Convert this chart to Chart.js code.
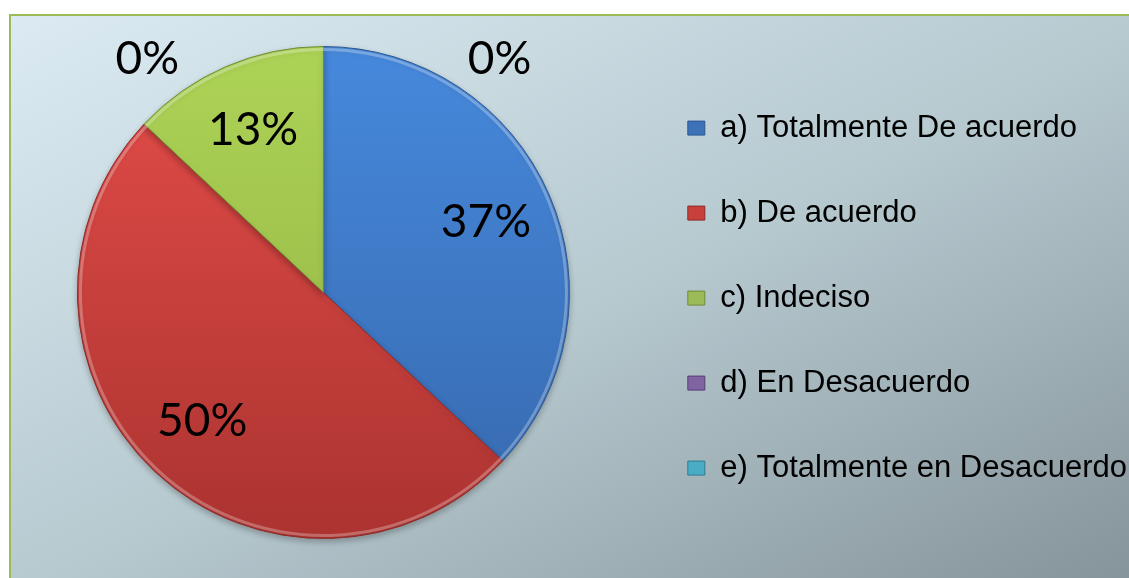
<!DOCTYPE html>
<html>
<head>
<meta charset="utf-8">
<script src="https://cdn.jsdelivr.net/npm/chart.js@4"></script>
<style>
  html, body { margin: 0; padding: 0; background: #fff; overflow: hidden; }
  #frame {
    position: absolute; left: 9px; top: 14px;
    width: 1130px; height: 564px;
    border: 2px solid #9bbb59;
    background: linear-gradient(to bottom right, #dcebf3 0%, #b6c9cf 52%, #85939a 100%);
  }
  #myChartPie { display: block; }
</style>
</head>
<body>
<div id="frame"><canvas id="myChartPie" width="1130" height="564"></canvas></div>
<script>
// data
var categories = ['a) Totalmente De acuerdo', 'b) De acuerdo', 'c) Indeciso', 'd) En Desacuerdo', 'e) Totalmente en Desacuerdo'];
var percentages = [37, 50, 13, 0, 0];

var topColors = ['#4689dc', '#e44d49', '#add356', '#8a6cb0', '#53b8d3'];
var bottomColors = ['#3768ad', '#ab3330', '#90b042', '#6a4f8c', '#3a92aa'];
var legendColors = ['#3d72b8', '#c8403c', '#9bbb59', '#8064a2', '#4bacc6'];
var edgeColors = ['#2c5690', '#8e2a28', '#718c34', '#553f74', '#2f7d92'];

function sliceFill(context) {
  var chart = context.chart;
  var area = chart.chartArea;
  var i = context.dataIndex;
  if (!area) return topColors[i];
  var r = chart.getDatasetMeta(0).controller.outerRadius || 246;
  var cy = (area.top + area.bottom) / 2;
  var g = chart.ctx.createLinearGradient(0, cy - r, 0, cy + r);
  g.addColorStop(0, topColors[i]);
  g.addColorStop(1, bottomColors[i]);
  return g;
}

// soft drop shadow under the pie
const shadowPlugin = {
  id: 'pieShadow',
  beforeDatasetsDraw(chart) {
    var ctx = chart.ctx;
    ctx.save();
    ctx.shadowColor = 'rgba(0,0,0,0.25)';
    ctx.shadowBlur = 6;
    ctx.shadowOffsetY = 3;
  },
  afterDatasetsDraw(chart) {
    chart.ctx.restore();
  }
};

// light rim along the outer edge of each slice
const bevelPlugin = {
  id: 'bevel',
  afterDatasetsDraw(chart) {
    var ctx = chart.ctx;
    chart.getDatasetMeta(0).data.forEach(function (arc) {
      var p = arc.getProps(['x', 'y', 'startAngle', 'endAngle', 'outerRadius']);
      if (p.endAngle - p.startAngle <= 0) return;
      ctx.save();
      ctx.beginPath();
      ctx.arc(p.x, p.y, p.outerRadius - 3, p.startAngle, p.endAngle);
      ctx.strokeStyle = 'rgba(255,255,255,0.28)';
      ctx.lineWidth = 3;
      ctx.stroke();
      ctx.restore();
    });
  }
};

// percent labels, zero slices pushed outside like the original
const pctLabels = {
  id: 'pctLabels',
  afterDraw(chart) {
    var ctx = chart.ctx;
    var zeros = 0;
    ctx.save();
    ctx.font = '46px Lato, "Open Sans", sans-serif';
    ctx.fillStyle = '#000';
    ctx.textAlign = 'center';
    ctx.textBaseline = 'middle';
    chart.getDatasetMeta(0).data.forEach(function (arc, i) {
      var p = arc.getProps(['x', 'y', 'startAngle', 'endAngle', 'outerRadius']);
      var val = percentages[i];
      var ang, dist;
      if (val > 0) {
        ang = (p.startAngle + p.endAngle) / 2;
        dist = p.outerRadius * 0.72;
      } else {
        ang = p.startAngle + (zeros === 0 ? -1 : 1) * 37 * Math.PI / 180;
        dist = p.outerRadius * 1.19;
        zeros++;
      }
      ctx.fillText(val + '%', p.x + Math.cos(ang) * dist, p.y + Math.sin(ang) * dist);
    });
    ctx.restore();
  }
};

const ctxPie = document.getElementById('myChartPie').getContext('2d');
const myChartPie = new Chart(ctxPie, {
  type: 'pie',
  data: {
    labels: categories,
    datasets: [{
      data: percentages,
      backgroundColor: sliceFill,
      borderColor: edgeColors,
      borderWidth: 1,
      radius: 246
    }]
  },
  plugins: [shadowPlugin, bevelPlugin, pctLabels],
  options: {
    responsive: false,
    animation: false,
    layout: {
      padding: { left: 2, right: 4, top: 2, bottom: 13 }
    },
    plugins: {
      tooltip: { enabled: false },
      legend: {
        position: 'right',
        align: 'center',
        // empty title only nudges the column down a little
        title: { display: true, text: ' ', font: { size: 1 }, padding: { top: 0, bottom: 10 } },
        labels: {
          boxWidth: 17,
          boxHeight: 14,
          padding: 54,
          color: '#000',
          font: { family: '"Liberation Sans", Arial, sans-serif', size: 31 },
          generateLabels: function (chart) {
            return categories.map(function (c, i) {
              return {
                text: c,
                fillStyle: legendColors[i],
                strokeStyle: edgeColors[i],
                lineWidth: 1,
                fontColor: '#000',
                index: i
              };
            });
          }
        }
      }
    }
  }
});
</script>
</body>
</html>
